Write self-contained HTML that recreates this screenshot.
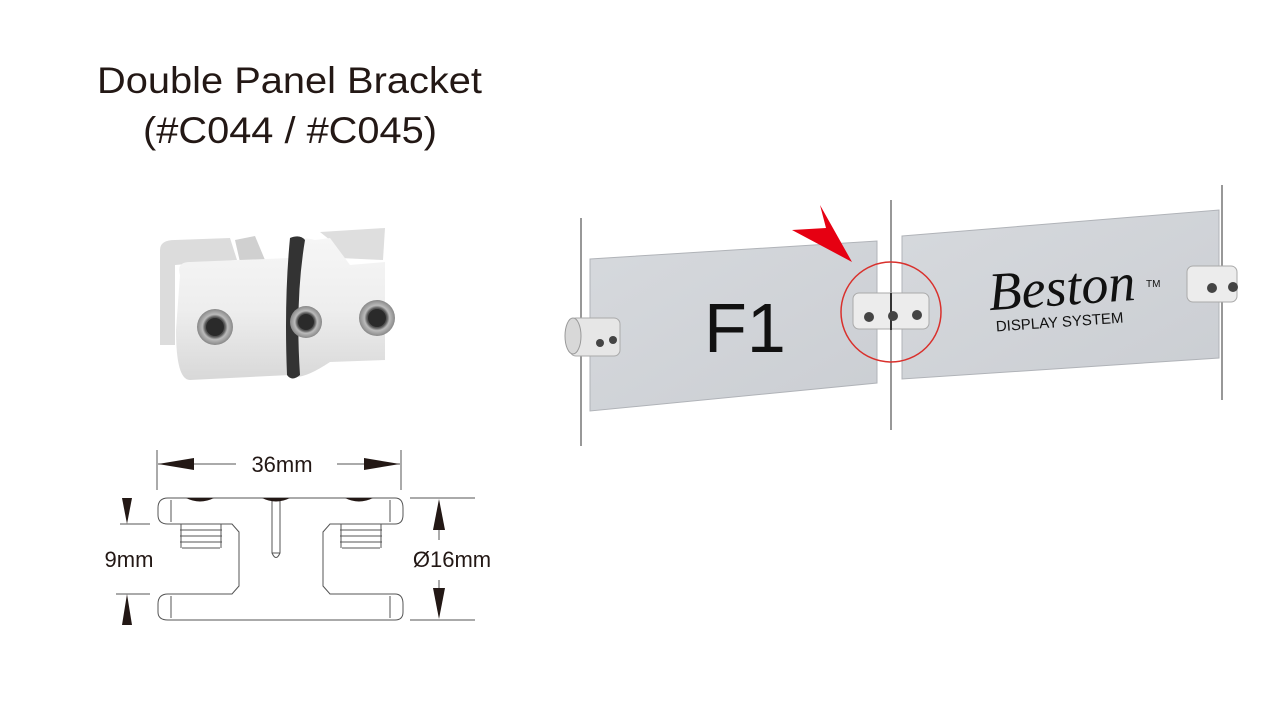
<!DOCTYPE html>
<html><head><meta charset="utf-8"><style>
html,body{margin:0;padding:0;background:#fff;width:1280px;height:720px;overflow:hidden}
svg{display:block}
text{font-family:"Liberation Sans",Arial,sans-serif}
</style></head><body>
<svg width="1280" height="720" viewBox="0 0 1280 720" xmlns="http://www.w3.org/2000/svg">
<defs>
<linearGradient id="al" x1="0" y1="0" x2="0" y2="1">
<stop offset="0" stop-color="#f6f6f6"/><stop offset="0.5" stop-color="#eeeeee"/><stop offset="1" stop-color="#d8d8d8"/></linearGradient>
<linearGradient id="pl" x1="0" y1="0" x2="1" y2="1">
<stop offset="0" stop-color="#d6d9dd"/><stop offset="1" stop-color="#cbced3"/></linearGradient>
<radialGradient id="sc"><stop offset="0" stop-color="#333"/><stop offset="0.55" stop-color="#555"/><stop offset="0.7" stop-color="#bbb"/><stop offset="1" stop-color="#888"/></radialGradient>
</defs>
<text x="97" y="93" font-size="37" textLength="385" lengthAdjust="spacingAndGlyphs" fill="#231815">Double Panel Bracket</text>
<text x="143" y="143" font-size="37" textLength="294" lengthAdjust="spacingAndGlyphs" fill="#231815">(#C044 / #C045)</text>

<!-- bracket photo -->
<path d="M160 250 Q160 240 175 240 L230 238 L237 260 L175 265 L175 345 L160 345 Z" fill="#dcdcdc"/>
<path d="M235 240 L255 236 L265 260 L240 262 Z" fill="#d0d0d0"/>
<path d="M320 232 L385 228 L383 260 L340 258 L330 240 Z" fill="#dedede"/>
<path d="M180 275 Q176 262 190 262 L290 258 L292 242 Q300 236 315 240 L330 238 L350 265 L385 262 L385 360 L330 362 Q300 382 290 375 L190 380 Q176 380 176 330 Z" fill="url(#al)"/>
<path d="M290 238 Q300 234 305 240 Q295 300 300 375 Q292 382 287 375 Q284 300 290 238 Z" fill="#333"/>
<circle cx="215" cy="327" r="18" fill="url(#sc)"/><circle cx="215" cy="327" r="9" fill="#2a2a2a"/>
<circle cx="306" cy="322" r="16" fill="url(#sc)"/><circle cx="306" cy="322" r="8" fill="#2a2a2a"/>
<circle cx="377" cy="318" r="18" fill="url(#sc)"/><circle cx="377" cy="318" r="9" fill="#2a2a2a"/>

<!-- technical drawing -->
<g stroke="#555" fill="none" stroke-width="1">
<line x1="157" y1="450" x2="157" y2="490"/><line x1="401" y1="450" x2="401" y2="490"/>
<line x1="120" y1="524" x2="150" y2="524"/><line x1="116" y1="594" x2="150" y2="594"/>
<line x1="410" y1="498" x2="475" y2="498"/><line x1="410" y1="620" x2="475" y2="620"/>
<line x1="158" y1="464" x2="236" y2="464"/><line x1="337" y1="464" x2="400" y2="464"/>
<line x1="439" y1="520" x2="439" y2="540"/><line x1="439" y1="580" x2="439" y2="600"/>
<path d="M168 498 L395 498 Q403 498 403 508 L403 515 Q403 524 395 524 L330 524 L323 532 L323 586 L330 594 L395 594 Q403 594 403 604 L403 612 Q403 620 395 620 L168 620 Q158 620 158 612 L158 604 Q158 594 168 594 L232 594 L239 586 L239 532 L232 524 L168 524 Q158 524 158 515 L158 508 Q158 498 168 498 Z"/>
<line x1="171" y1="500" x2="171" y2="522"/><line x1="390" y1="500" x2="390" y2="522"/>
<line x1="171" y1="596" x2="171" y2="618"/><line x1="390" y1="596" x2="390" y2="618"/>
<path d="M272 498 L272 553 Q276 562 280 553 L280 498"/><line x1="272" y1="553" x2="280" y2="553"/>
<path d="M181 524 h40 M180 530 h42 M180 536 h42 M180 542 h42 M182 548 h38 M341 524 h40 M340 530 h42 M340 536 h42 M340 542 h42 M342 548 h38"/>
<path d="M181 524 v24 M221 524 v24 M341 524 v24 M381 524 v24"/>
</g>
<g fill="#231815">
<path d="M186 498 Q200 505 214 498 Z M262 498 Q276 505 290 498 Z M345 498 Q359 505 373 498 Z"/>
<polygon points="158,464 194,458 194,470"/><polygon points="400,464 364,458 364,470"/>
<polygon points="127,524 122,498 132,498"/><polygon points="127,594 122,625 132,625"/>
<polygon points="439,499 433,530 445,530"/><polygon points="439,619 433,588 445,588"/>
</g>
<text x="282" y="472" font-size="22" text-anchor="middle" fill="#231815">36mm</text>
<text x="129" y="567" font-size="22" text-anchor="middle" fill="#231815">9mm</text>
<text x="452" y="567" font-size="22" text-anchor="middle" fill="#231815">Ø16mm</text>

<!-- panel scene -->
<line x1="581" y1="218" x2="581" y2="446" stroke="#777" stroke-width="1.5"/>
<line x1="891" y1="200" x2="891" y2="430" stroke="#777" stroke-width="1.5"/>
<line x1="1222" y1="185" x2="1222" y2="400" stroke="#777" stroke-width="1.5"/>
<polygon points="590,259 877,241 877,383 590,411" fill="url(#pl)" stroke="#b0b3b8"/>
<polygon points="902,236 1219,210 1219,358 902,379" fill="url(#pl)" stroke="#b0b3b8"/>
<text x="745" y="352" font-size="70" text-anchor="middle" fill="#111">F1</text>
<text x="1063" y="305" font-size="54" style="font-family:'Liberation Serif',serif;font-style:italic" fill="#111" transform="rotate(-4 1063 305)" text-anchor="middle">Beston</text>
<text x="1146" y="287" font-size="10" fill="#111">TM</text>
<text x="1060" y="327" font-size="15" text-anchor="middle" fill="#111" transform="rotate(-4 1060 327)">DISPLAY SYSTEM</text>
<!-- left standoff -->
<rect x="570" y="318" width="50" height="38" rx="6" fill="#e6e6e6" stroke="#aaa"/>
<ellipse cx="573" cy="336" rx="8" ry="18" fill="#d8d8d8" stroke="#999"/>
<circle cx="600" cy="343" r="4" fill="#444"/><circle cx="613" cy="340" r="4" fill="#444"/>
<!-- middle bracket -->
<rect x="853" y="293" width="76" height="36" rx="6" fill="#ececec" stroke="#aaa"/>
<line x1="891" y1="293" x2="891" y2="330" stroke="#333" stroke-width="2"/>
<circle cx="869" cy="317" r="5" fill="#444"/><circle cx="893" cy="316" r="5" fill="#444"/><circle cx="917" cy="315" r="5" fill="#444"/>
<!-- right bracket -->
<rect x="1187" y="266" width="50" height="36" rx="6" fill="#ececec" stroke="#aaa"/>
<circle cx="1212" cy="288" r="5" fill="#444"/><circle cx="1233" cy="287" r="5" fill="#444"/>
<circle cx="891" cy="312" r="50" fill="none" stroke="#d9302c" stroke-width="1.5"/>
<polygon points="792,230 826,228 820,205 852,262" fill="#e60012"/>
</svg>
</body></html>
